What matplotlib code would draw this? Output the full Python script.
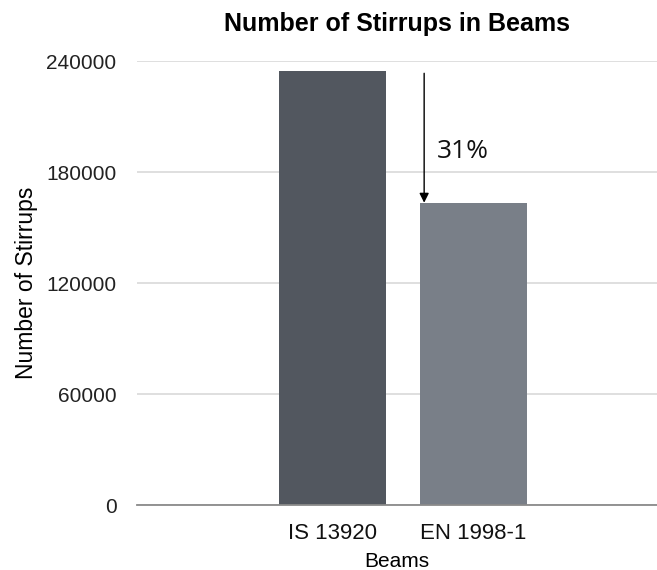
import matplotlib.pyplot as plt
import numpy as np

beams = ["IS 13920", "EN 1998-1"]
stirrups = [235000, 163500]
bar_colors = ["#52575f", "#797f88"]
yticks = [0, 60000, 120000, 180000, 240000]
reduction_label = "31%"

plt.rcParams['font.family'] = ['Liberation Sans', 'DejaVu Sans']

fig = plt.figure(figsize=(6.57, 5.7), dpi=100)
ax = fig.add_axes([0.209, 0.114, 0.791, 0.7785])

x = np.arange(len(beams))
ax.bar(x, stirrups, width=0.76, color=bar_colors, zorder=3)

ax.set_xlim(-1.389, 2.307)
ax.set_ylim(0, 240000)
ax.set_yticks(yticks)
ax.set_yticklabels([str(v) for v in yticks], fontsize=15, color="#222222")
ax.set_xticks(x)
ax.set_xticklabels(beams, fontsize=16, color="#111111")
ax.tick_params(axis="both", length=0)
ax.tick_params(axis="x", pad=13)
ax.tick_params(axis="y", pad=15)

ax.grid(axis="y", color="#d9d9d9", linewidth=1.2, zorder=0)
for s in ["top", "right", "left"]:
    ax.spines[s].set_visible(False)
ax.spines["bottom"].set_color("#8a8a8a")
ax.spines["bottom"].set_linewidth(1.3)
ax.spines["bottom"].set_zorder(4)

# arrow showing the reduction
ax.annotate("", xy=(0.651, stirrups[1]), xytext=(0.651, 233500),
            arrowprops=dict(arrowstyle="-|>", color="black", lw=1.0,
                            mutation_scale=14, shrinkA=0, shrinkB=0),
            zorder=5)
ax.text(0.744, 191000, reduction_label, fontsize=19, family=['Open Sans', 'DejaVu Sans'],
        va="center", ha="left", color="#111111")

ax.set_title("Number of Stirrups in Beams", fontsize=18, fontweight="bold", pad=22)
ax.set_xlabel("Beams", fontsize=15, labelpad=6)
ax.set_ylabel("Number of Stirrups", fontsize=16.5, labelpad=6)

fig.savefig("out.png", dpi=100)
